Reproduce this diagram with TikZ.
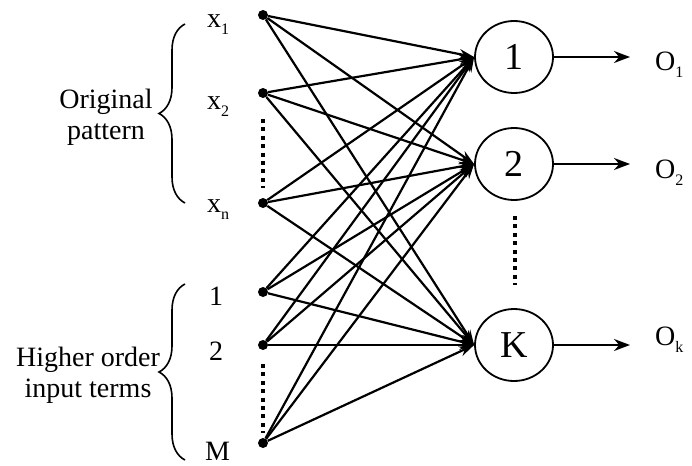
\documentclass[tikz,border=0pt]{standalone}
\usepackage{fontspec}
\setmainfont{Liberation Serif}
\usetikzlibrary{arrows.meta,decorations.pathreplacing,shapes.geometric}

\newcommand\lowsub[1]{\raisebox{-7pt}{\fontsize{16}{16}\selectfont #1}}

\begin{document}
\begin{tikzpicture}[x=1pt,y=-1pt,
  every node/.style={font=\fontsize{28}{32}\selectfont},
  inp/.style={circle,fill=black,inner sep=0pt,minimum size=10pt},
  unit/.style={ellipse,draw,line width=1.8pt,minimum width=78pt,minimum height=72pt,inner sep=0pt,
               font=\fontsize{38}{38}\selectfont},
  lbl/.style={inner sep=0pt,anchor=base west},
  link/.style={line width=2.2pt,-{Stealth[length=15pt,width=10pt]}},
  outlink/.style={line width=2pt,-{Stealth[length=16pt,width=12pt]}},
  dots/.style={line width=4pt,dash pattern=on 4pt off 4.4pt},
  grp/.style={line width=1.6pt,decorate,decoration={brace,amplitude=26pt}},
  side/.style={align=center,inner sep=0pt,font=\fontsize{28}{31}\selectfont}]
  \useasboundingbox (0,0) rectangle (692,465);

  % input points
  \node[inp] (i1) at (263,15) {};
  \node[inp] (i2) at (263,93) {};
  \node[inp] (i3) at (263,203) {};
  \node[inp] (i4) at (263,292) {};
  \node[inp] (i5) at (263,345) {};
  \node[inp] (i6) at (263,443) {};

  % input labels
  \node[lbl] (l1) at (207,28) {x\lowsub{1}};
  \node[lbl] (l2) at (207,110) {x\lowsub{2}};
  \node[lbl] (l3) at (207,212) {x\lowsub{n}};
  \node[lbl] (l4) at (209,305) {1};
  \node[lbl] (l5) at (209,360) {2};
  \node[lbl] (l6) at (205,460) {M};

  % output units
  \node[unit] (o1) at (514,57) {1};
  \node[unit] (o2) at (514,164) {2};
  \node[unit] (o3) at (514,345) {K};

  % full connection from inputs to units
  \foreach \i in {1,...,6}
    \foreach \o in {1,2,3}
      \draw[link] (i\i) -- (o\o.west);

  % outputs
  \coordinate (e1) at (630,57);
  \coordinate (e2) at (630,164);
  \coordinate (e3) at (630,345);
  \foreach \o in {1,2,3}
    \draw[outlink] (o\o.east) -- (e\o);
  \node[lbl] (r1) at (655,71) {O\lowsub{1}};
  \node[lbl] (r2) at (655,178) {O\lowsub{2}};
  \node[lbl] (r3) at (655,345) {O\lowsub{k}};

  % omitted entries
  \coordinate (d1a) at (263,119);
  \coordinate (d1b) at (263,188);
  \coordinate (d2a) at (263,364);
  \coordinate (d2b) at (263,433);
  \coordinate (d3a) at (515,216);
  \coordinate (d3b) at (515,285);
  \draw[dots] (d1a) -- (d1b);
  \draw[dots] (d2a) -- (d2b);
  \draw[dots] (d3a) -- (d3b);

  % groups of inputs
  \coordinate (b1a) at (185,203);
  \coordinate (b1b) at (185,24);
  \coordinate (b2a) at (185,460);
  \coordinate (b2b) at (185,284);
  \draw[grp] (b1a) -- (b1b);
  \draw[grp] (b2a) -- (b2b);
  \node[side] (g1) at (106,117) {Original\\pattern};
  \node[side] (g2) at (88,375) {Higher order\\input terms};
\end{tikzpicture}
\end{document}
